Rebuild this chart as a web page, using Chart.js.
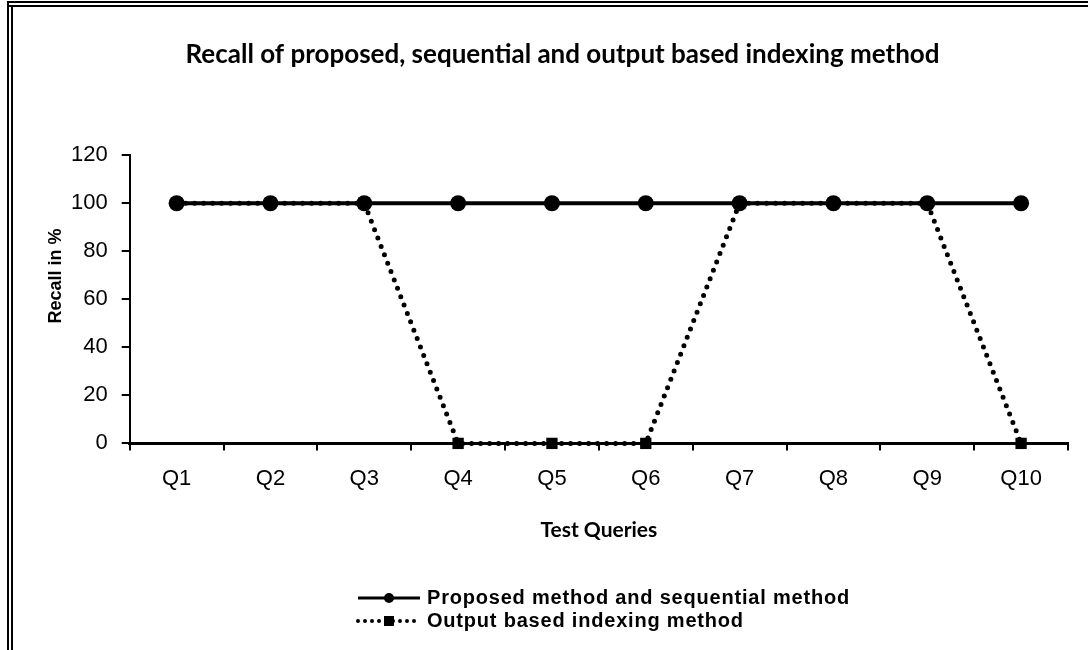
<!DOCTYPE html>
<html>
<head>
<meta charset="utf-8">
<script src="https://cdn.jsdelivr.net/npm/chart.js@4.4.1/dist/chart.umd.min.js"></script>
<style>
  html, body { margin: 0; padding: 0; background: #fff; }
  #wrap { width: 1088px; height: 650px; position: relative; }
</style>
</head>
<body>
<div id="wrap"><canvas id="recall-chart" width="1088" height="650"></canvas></div>
<script>
// chart data
const queries = ['Q1', 'Q2', 'Q3', 'Q4', 'Q5', 'Q6', 'Q7', 'Q8', 'Q9', 'Q10'];
const proposedRecall = [100, 100, 100, 100, 100, 100, 100, 100, 100, 100];
const outputBasedRecall = [100, 100, 100, 0, 0, 0, 100, 100, 100, 0];
const yTicks = [0, 20, 40, 60, 80, 100, 120];

const seriesNames = ['Proposed method and sequential method', 'Output based indexing method'];
const yAxisTitle = 'Recall in %';

// double frame on top and left like the original picture
const framePlugin = {
  id: 'frame',
  beforeDraw(chart) {
    const ctx = chart.ctx;
    ctx.save();
    ctx.fillStyle = '#fff';
    ctx.fillRect(0, 0, chart.width, chart.height);
    ctx.fillStyle = '#000';
    ctx.fillRect(7, 1, chart.width - 7, 2);
    ctx.fillRect(7, 5, chart.width - 7, 2);
    ctx.fillRect(7, 1, 2, chart.height);
    ctx.fillRect(11, 5, 2, chart.height);
    ctx.restore();
  }
};

// y axis title, placed a bit above the middle like in excel
const yTitlePlugin = {
  id: 'yTitle',
  afterDraw(chart) {
    const ctx = chart.ctx;
    ctx.save();
    ctx.translate(56, 276);
    ctx.rotate(-Math.PI / 2);
    ctx.font = 'bold 18px "Liberation Sans", Arial, sans-serif';
    ctx.fillStyle = '#000';
    ctx.textAlign = 'center';
    ctx.textBaseline = 'middle';
    ctx.fillText(yAxisTitle, 0, 0);
    ctx.restore();
  }
};

// legend drawn as a left aligned list under the chart
const listLegend = {
  id: 'listLegend',
  afterDraw(chart) {
    const ctx = chart.ctx;
    const x0 = 358, x1 = 420, tx = 427;
    const rows = [598, 621];
    ctx.save();
    chart.data.datasets.forEach((ds, i) => {
      const y = rows[i];
      ctx.strokeStyle = '#000';
      ctx.lineWidth = i === 0 ? 3 : 4;
      ctx.lineCap = ds.borderCapStyle || 'butt';
      ctx.setLineDash(i === 0 ? [] : [0, 7]);
      ctx.beginPath();
      ctx.moveTo(x0, y);
      ctx.lineTo(x1, y);
      ctx.stroke();
      ctx.setLineDash([]);
      ctx.fillStyle = '#000';
      if (ds.pointStyle === 'rect') {
        ctx.fillRect((x0 + x1) / 2 - 5, y - 5, 10, 10);
      } else {
        ctx.beginPath();
        ctx.arc((x0 + x1) / 2, y, 5, 0, Math.PI * 2);
        ctx.fill();
      }
      ctx.font = 'bold 20px "Liberation Sans", Arial, sans-serif';
      ctx.letterSpacing = '0.8px';
      ctx.textBaseline = 'middle';
      ctx.fillText(ds.label, tx, y);
    });
    ctx.restore();
  }
};

const chartCanvas = document.querySelector('#recall-chart');

const recallChart = new Chart(chartCanvas, {
  type: 'line',
  data: {
    labels: queries,
    datasets: [
      {
        label: seriesNames[0],
        data: proposedRecall,
        borderColor: '#000',
        backgroundColor: '#000',
        borderWidth: 4,
        pointStyle: 'circle',
        pointRadius: 8,
        pointHoverRadius: 8,
        pointBorderWidth: 0,
        fill: false,
        clip: false,
        tension: 0
      },
      {
        label: seriesNames[1],
        data: outputBasedRecall,
        borderColor: '#000',
        backgroundColor: '#000',
        borderWidth: 5,
        borderDash: [0, 9],
        borderCapStyle: 'round',
        pointStyle: 'rect',
        pointRadius: 8,
        pointHoverRadius: 8,
        pointBorderWidth: 0,
        fill: false,
        clip: false,
        tension: 0
      }
    ]
  },
  options: {
    responsive: false,
    animation: false,
    layout: {
      padding: { left: 57, right: 20, top: 0, bottom: 107 }
    },
    plugins: {
      legend: { display: false },
      tooltip: { enabled: false },
      title: {
        display: true,
        text: 'Recall of proposed, sequential and output based indexing method',
        color: '#000',
        font: { family: 'Lato, "Open Sans", sans-serif', size: 26, weight: 'bold' },
        padding: { top: 39, bottom: 85 }
      }
    },
    scales: {
      x: {
        offset: true,
        grid: {
          display: true,
          offset: true,
          drawOnChartArea: false,
          color: '#000',
          lineWidth: 2,
          tickLength: 7
        },
        border: { color: '#000', width: 3 },
        ticks: {
          color: '#000',
          padding: 15,
          font: { family: '"Liberation Sans", Arial, sans-serif', size: 22 }
        },
        title: {
          display: true,
          text: 'Test Queries',
          color: '#000',
          font: { family: 'Lato, "Open Sans", sans-serif', size: 21, weight: 'bold' },
          padding: { top: 11, bottom: 0 }
        }
      },
      y: {
        min: 0,
        max: 120,
        afterBuildTicks: (scale) => {
          scale.ticks = yTicks.map(v => ({ value: v }));
        },
        grid: {
          display: true,
          drawOnChartArea: false,
          color: '#000',
          lineWidth: 2,
          tickLength: 8
        },
        border: { color: '#000', width: 2 },
        ticks: {
          color: '#000',
          padding: 14,
          font: { family: '"Liberation Sans", Arial, sans-serif', size: 22 }
        },
        title: { display: false }
      }
    }
  },
  plugins: [framePlugin, yTitlePlugin, listLegend]
});
</script>
</body>
</html>
